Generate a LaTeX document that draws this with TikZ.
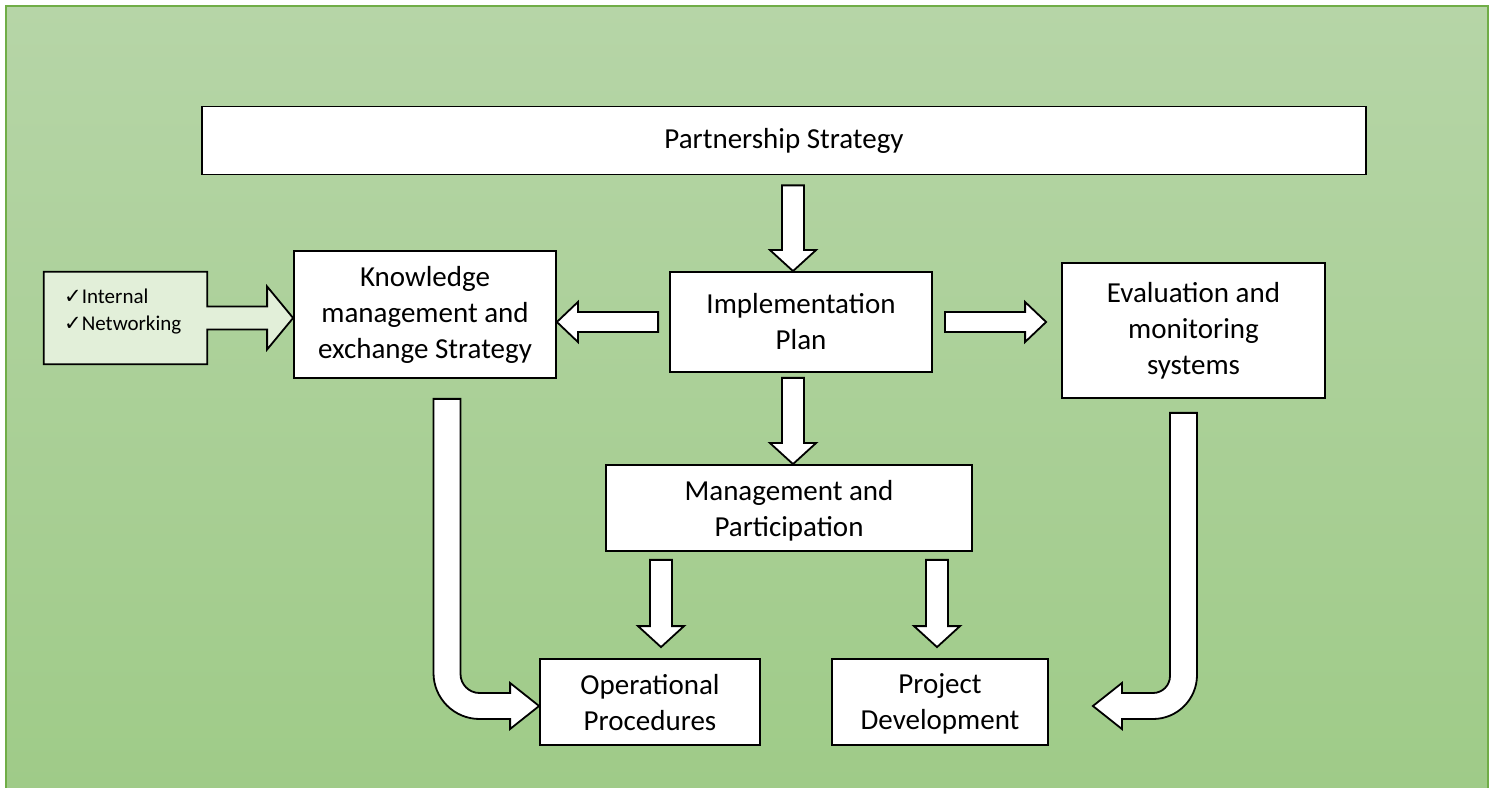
\documentclass[tikz,border=0pt]{standalone}
\usepackage{fontspec}
\setmainfont{Carlito}
\newfontfamily\symfont{DejaVu Sans}
\usetikzlibrary{calc}

\definecolor{bgtop}{RGB}{182,213,167}
\definecolor{bgbottom}{RGB}{159,203,136}
\definecolor{bgedge}{RGB}{112,173,71}
\definecolor{notefill}{RGB}{226,239,217}

\tikzset{
  stagebox/.style={draw, line width=1.8pt, fill=white, inner sep=0pt, align=center,
    font=\fontsize{29}{36}\selectfont},
  lowbox/.style={stagebox, text depth=-5pt},
  blockarrow/.style={draw, line width=1.8pt, fill=white},
  notetext/.style={inner sep=0pt, align=left, font=\fontsize{21}{26.5}\selectfont},
}

\newcommand{\tickmark}{{\symfont\fontsize{21}{21}\selectfont ✓}}

% block arrow pointing down, x taken from the tip
\newcommand{\downblock}[2]{%
  \draw[blockarrow] let \p1=#1, \p2=#2 in
    (\x2-11pt,\y1) -- (\x2-11pt,\y2+21pt) -- (\x2-23pt,\y2+21pt) -- (\x2,\y2)
    -- (\x2+23pt,\y2+21pt) -- (\x2+11pt,\y2+21pt) -- (\x2+11pt,\y1) -- cycle;}
% block arrow pointing sideways, y taken from the start
\newcommand{\sideblock}[2]{%
  \draw[blockarrow] let \p1=#1, \p2=#2, \n1={\x2-21*(\x2-\x1)/abs(\x2-\x1)} in
    (\x1,\y1-10pt) -- ({\n1*1pt},\y1-10pt) -- ({\n1*1pt},\y1-20pt) -- (\x2,\y1)
    -- ({\n1*1pt},\y1+20pt) -- ({\n1*1pt},\y1+10pt) -- (\x1,\y1+10pt) -- cycle;}

\begin{document}
\begin{tikzpicture}[x=1pt, y=1pt]
    \useasboundingbox (0,0) rectangle (1495,787);
    \shade[top color=bgtop, bottom color=bgbottom] (6,-2) rectangle (1488,781);
    \draw[bgedge, line width=2pt] (6,-2) -- (6,781) -- (1488,781) -- (1488,-2);

    % boxes
    \node[stagebox, minimum width=1164pt, minimum height=68pt] (partner) at (784,646.5) {Partnership Strategy};
    \node[stagebox, minimum width=262pt, minimum height=100pt] (impl) at (801,465) {Implementation\\Plan};
    \node[stagebox, minimum width=262pt, minimum height=127pt] (know) at (425,472.5) {Knowledge\\management and\\exchange Strategy};
    \node[stagebox, minimum width=263pt, minimum height=135pt] (eval) at (1193.5,456.5) {Evaluation and\\monitoring\\systems};
    \node[lowbox, minimum width=366pt, minimum height=86pt] (mgmt) at (789,279) {Management and\\Participation};
    \node[lowbox, minimum width=220pt, minimum height=86pt] (ops) at (650,85) {Operational\\Procedures};
    \node[lowbox, minimum width=216pt, minimum height=86pt] (proj) at (940,85) {Project\\Development};

    % note box with its arrow
    \node[inner sep=0pt, minimum width=163pt, minimum height=92pt] (checks) at (125.5,469) {};
    \draw[line width=1.8pt, fill=notefill] let \p1=(checks.east), \p2=(know.west) in
      (checks.north west) -- (checks.north east) -- (\x1,\y1+11.5pt) -- (\x2-26pt,\y1+11.5pt)
      -- (\x2-26pt,\y1+31.5pt) -- (\x2,\y1) -- (\x2-26pt,\y1-31.5pt) -- (\x2-26pt,\y1-11.5pt)
      -- (\x1,\y1-11.5pt) -- (checks.south east) -- (checks.south west) -- cycle;
    \node[notetext, anchor=north west] (checklist) at (64,498) {\tickmark Internal\\\tickmark Networking};

    % straight arrows
    \downblock{([yshift=-10pt]partner.south)}{([xshift=-8pt]impl.north)}
    \downblock{([yshift=-5pt]impl.south)}{([xshift=4pt]mgmt.north)}
    \downblock{([yshift=-8pt]mgmt.south)}{([xshift=11pt,yshift=11pt]ops.north)}
    \downblock{([yshift=-8pt]mgmt.south)}{([xshift=-3pt,yshift=11pt]proj.north)}
    \sideblock{([xshift=-11pt]impl.west)}{(know.east)}
    \sideblock{([xshift=12pt]impl.east)}{([xshift=-15pt]eval.west)}

    % bent arrows
    \draw[blockarrow] let \p1=([xshift=22pt,yshift=-20pt]know.south), \p2=([yshift=-4pt]ops.west) in
      (\x1-13.5pt,\y1) -- (\x1-13.5pt,\y2-13pt+46pt) arc[start angle=180, end angle=270, radius=46pt]
      -- (\x2-29pt,\y2-13pt) -- (\x2-29pt,\y2-23pt) -- (\x2,\y2) -- (\x2-29pt,\y2+23pt) -- (\x2-29pt,\y2+13pt)
      -- (\x1+32.5pt,\y2+13pt) arc[start angle=270, end angle=180, radius=19pt] -- (\x1+13.5pt,\y1) -- cycle;
    \draw[blockarrow] let \p1=([xshift=-10pt,yshift=-14pt]eval.south), \p2=([xshift=44pt,yshift=-4pt]proj.east) in
      (\x1+13.5pt,\y1) -- (\x1+13.5pt,\y2-13pt+44pt) arc[start angle=0, end angle=-90, radius=44pt]
      -- (\x2+29pt,\y2-13pt) -- (\x2+29pt,\y2-23pt) -- (\x2,\y2) -- (\x2+29pt,\y2+23pt) -- (\x2+29pt,\y2+13pt)
      -- (\x1-30.5pt,\y2+13pt) arc[start angle=270, end angle=360, radius=17pt] -- (\x1-13.5pt,\y1) -- cycle;
\end{tikzpicture}
\end{document}
